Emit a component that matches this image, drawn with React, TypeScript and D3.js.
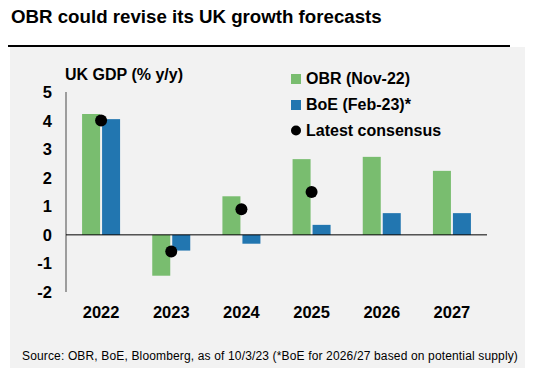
import * as d3 from 'd3'

const years = ['2022', '2023', '2024', '2025', '2026', '2027']
const obrValues = [4.23, -1.43, 1.35, 2.65, 2.73, 2.24]
const boeValues = [4.05, -0.55, -0.31, 0.35, 0.76, 0.76]
const consensusValues: (number | null)[] = [4.0, -0.58, 0.9, 1.5, null, null]
const yTicks = [5, 4, 3, 2, 1, 0, -1, -2]

const legendItems = [
  { label: 'OBR (Nov-22)', kind: 'obr' },
  { label: 'BoE (Feb-23)*', kind: 'boe' },
  { label: 'Latest consensus', kind: 'dot' },
]

const GREEN = '#79bd6f'
const BLUE = '#2276b0'
const FONT = '"Liberation Sans", Arial, Helvetica, sans-serif'

export default function App() {
  // plot area
  const left = 66
  const right = 487
  const top = 92
  const bottom = 292

  const x = d3.scaleBand<string>().domain(years).range([left, right]).padding(0)
  const x1 = d3.scaleBand<string>().domain(['obr', 'boe']).range([-19, 19]).paddingInner(0.1)
  const y = d3.scaleLinear().domain([-2, 5]).range([bottom, top])

  const center = (yr: string) => (x(yr) || 0) + x.bandwidth() / 2

  const bar = (yr: string, v: number, key: string, fill: string) => {
    const y0 = y(0)
    const yv = y(v)
    return (
      <rect
        key={key + yr}
        x={center(yr) + (x1(key) || 0)}
        y={Math.min(y0, yv)}
        width={x1.bandwidth()}
        height={Math.abs(yv - y0)}
        fill={fill}
      />
    )
  }

  return (
    <svg
      width={537}
      height={373}
      style={{ position: 'absolute', left: 0, top: 0, fontFamily: FONT }}
    >
      <rect x={0} y={0} width={537} height={373} fill="#ffffff" />
      <text x={11} y={23} fontSize={18.7} fontWeight="bold" fill="#000">
        OBR could revise its UK growth forecasts
      </text>
      <rect x={10} y={47} width={515} height={321} fill="#f2f2f2" />
      <line x1={8} x2={510} y1={46} y2={46} stroke="#000" strokeWidth={2} />

      <text x={65} y={80} fontSize={16} fontWeight="bold" fill="#000">
        UK GDP (% y/y)
      </text>

      {/* y axis */}
      <line x1={left} x2={left} y1={top} y2={bottom} stroke="#808080" strokeWidth={1.5} />
      {yTicks.map((t) => (
        <text
          key={t}
          x={52}
          y={y(t)}
          dy="0.36em"
          textAnchor="end"
          fontSize={16.5}
          fontWeight="bold"
          fill="#000"
        >
          {t}
        </text>
      ))}

      {/* bars */}
      {years.map((yr, i) => bar(yr, obrValues[i], 'obr', GREEN))}
      {years.map((yr, i) => bar(yr, boeValues[i], 'boe', BLUE))}

      {/* zero line */}
      <line x1={left} x2={right} y1={y(0)} y2={y(0)} stroke="#000" strokeWidth={1} />

      {/* consensus dots */}
      {years.map((yr, i) => {
        const v = consensusValues[i]
        if (v === null) return null
        return <circle key={'c' + yr} cx={center(yr)} cy={y(v)} r={6} fill="#000" />
      })}

      {/* x labels */}
      {years.map((yr) => (
        <text
          key={'x' + yr}
          x={center(yr)}
          y={318}
          textAnchor="middle"
          fontSize={16.5}
          fontWeight="bold"
          fill="#000"
        >
          {yr}
        </text>
      ))}

      {/* legend */}
      {legendItems.map((d, i) => {
        const ly = 84 + i * 26
        return (
          <g key={d.label}>
            {d.kind === 'dot' ? (
              <circle cx={296} cy={ly - 5.5} r={5} fill="#000" />
            ) : (
              <rect x={291} y={ly - 10} width={10} height={10} fill={d.kind === 'obr' ? GREEN : BLUE} />
            )}
            <text x={306} y={ly} fontSize={16} fontWeight="bold" fill="#000">
              {d.label}
            </text>
          </g>
        )
      })}

      <text x={22} y={360} fontSize={12} letterSpacing={0.15} fill="#000">
        Source: OBR, BoE, Bloomberg, as of 10/3/23 (*BoE for 2026/27 based on potential supply)
      </text>
    </svg>
  )
}
